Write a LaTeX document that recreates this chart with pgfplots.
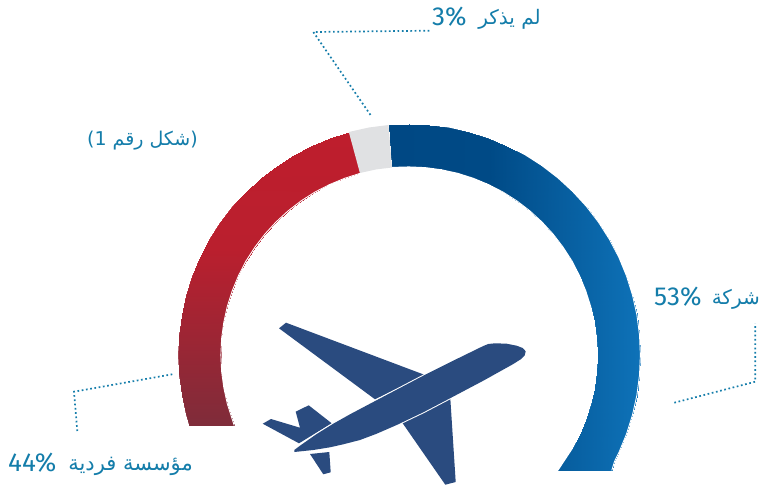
\documentclass[border=0pt]{standalone}
\usepackage{fontspec}
\usepackage{pgfplots}
\pgfplotsset{compat=1.18}
\setmainfont{Fira Sans}
\newfontfamily\arabicfont[Script=Arabic]{DejaVu Sans}
\TeXXeTstate=1
\definecolor{lbl}{RGB}{20,125,170}
\definecolor{planec}{RGB}{42,75,127}
\definecolor{grayseg}{RGB}{224,225,227}
\pgfplotsset{
 colormap={blueg}{rgb255(0cm)=(0,72,132); rgb255(4cm)=(0,74,134); rgb255(10cm)=(14,114,184)},
 colormap={redg}{rgb255(0cm)=(190,30,45); rgb255(4cm)=(186,31,46); rgb255(10cm)=(127,44,58)},
}
\begin{document}
\begin{tikzpicture}[x=1pt,y=1pt]
\path (0,0) rectangle (760,486);
\begin{axis}[at={(0,0)},anchor=south west,scale only axis,width=760pt,height=486pt,
  xmin=0,xmax=760,ymin=0,ymax=486,y dir=reverse,hide axis,clip=false]
% blue arc
\addplot[surf,shader=interp,mesh/cols=2,mesh/ordering=x varies,colormap name=blueg,point meta=x,point meta rel=per plot,draw=none] table {
x y
388.5 125
392 167
409 124
409 166.5
429.1 124.9
425.4 167.2
449.1 127.5
441.7 169.4
468.8 131.9
457.8 172.9
488.0 137.9
473.5 177.9
506.4 145.6
488.7 184.2
524.5 154.9
503.3 191.8
541.5 165.8
517.1 200.6
557.5 178.1
530.2 210.6
572.3 191.7
542.3 221.7
585.9 206.5
553.4 233.8
598.2 222.5
563.4 246.9
609.1 239.5
572.3 260.8
618.4 257.4
579.8 275.3
626.1 276.0
586.1 290.5
632.1 295.2
591.1 306.2
636.5 314.9
594.6 322.3
639.1 334.9
596.8 338.6
640 355
597.5 355
639.1 375.1
596.8 371.4
636.5 395.1
594.6 387.7
632.1 414.8
591.1 403.8
626.1 434.0
586.1 419.5
618.4 452.6
579.8 434.7
614.1 461.3
572.3 449.3
611.5 470
558.3 470
};
% red arc
\addplot[surf,shader=interp,mesh/cols=2,mesh/ordering=x varies,colormap name=redg,point meta=y,point meta rel=per plot,draw=none] table {
x y
348.8 132
359.9 173
330.0 137.9
344.5 177.9
311.4 145.6
329.3 184.2
293.5 154.9
314.7 191.8
276.5 165.8
300.9 200.6
260.5 178.1
287.8 210.6
245.7 191.7
275.7 221.7
232.1 206.5
264.6 233.8
219.8 222.5
254.6 246.9
209.0 239.5
245.7 260.8
199.6 257.4
238.2 275.3
191.9 276.0
231.9 290.5
185.9 295.2
226.9 306.2
181.5 314.9
223.4 322.3
178.9 334.9
221.2 338.6
178 355
220.5 355
178.9 375.1
221.2 371.4
181.5 395.1
223.4 387.7
185.9 414.8
226.9 403.8
188.9 425
234 425
};
% smooth edges of the arcs
\addplot[white,line width=0.9pt] coordinates {(388.5,124.6)(409,123.6)(429.1,124.5)(449.1,127.1)(468.8,131.5)(488.0,137.5)(506.4,145.2)(524.7,154.5)(541.7,165.4)(557.8,177.8)(572.6,191.4)(586.2,206.2)(598.5,222.2)(609.4,239.3)(618.8,257.2)(626.5,275.9)(632.5,295.1)(636.9,314.8)(639.5,334.9)(640.4,355)(639.5,375.1)(636.9,395.2)(632.5,414.9)(626.5,434.1)(618.8,452.8)(614.5,461.5)(611.8,470.4)};
\addplot[white,line width=0.9pt] coordinates {(392,167.4)(409,166.9)(425.4,167.6)(441.6,169.8)(457.7,173.3)(473.4,178.3)(488.5,184.6)(503.1,192.1)(516.9,200.9)(529.9,210.9)(542,222)(553.1,234.1)(563.1,247.2)(572,261)(579.4,275.5)(585.7,290.7)(590.7,306.4)(594.2,322.4)(596.4,338.7)(597.1,355)(596.4,371.3)(594.2,387.6)(590.7,403.7)(585.7,419.3)(579.4,434.5)(571.9,449.1)(557.9,470.4)};
\addplot[white,line width=0.9pt] coordinates {(348.7,131.6)(329.9,137.5)(311.2,145.2)(293.3,154.5)(276.3,165.4)(260.2,177.8)(245.4,191.4)(231.8,206.2)(219.5,222.2)(208.6,239.3)(199.2,257.2)(191.5,275.9)(185.5,295.1)(181.1,314.8)(178.5,334.9)(177.6,355)(178.5,375.1)(181.1,395.2)(185.5,414.9)(188.6,425.4)};
\addplot[white,line width=0.9pt] coordinates {(360,173.4)(344.7,178.3)(329.5,184.6)(314.9,192.1)(301.1,200.9)(288.1,210.9)(276,222)(264.9,234.1)(254.9,247.2)(246,261)(238.6,275.5)(232.3,290.7)(227.3,306.4)(223.8,322.4)(221.6,338.7)(220.9,355)(221.6,371.3)(223.8,387.6)(227.3,403.7)(234.2,425.4)};
% grey segment
\addplot[fill=grayseg,draw=none] coordinates {(348.8,132)(368.9,127.5)(388.5,125)(392,167.5)(376.3,169.4)(359.9,173)} --cycle;
% aeroplane
\addplot[fill=planec,draw=none] coordinates {(279,328.3)(286,322.7)(425,375)(375,399.3)} --cycle;
\addplot[fill=planec,draw=none] coordinates {(450.3,398.3)(455.7,482)(445.3,484.7)(402,422.3)} --cycle;
\addplot[fill=planec,draw=none] coordinates {(295.7,411.7)(308.7,405.3)(331.7,423.3)(299,443.3)(262.7,423.7)(271,419)(300,427.7)} --cycle;
\addplot[fill=planec,draw=none] coordinates {(310,454)(329.3,452)(330.7,472.3)(323.3,474.3)} --cycle;
\addplot[draw=white,line width=2pt] coordinates {(294.3,450)(300,445.7)(316.7,434)(333.3,423.7)(350,414.3)(383.3,396.7)(423.3,375.7)(456.7,359)(483.3,346)(488.3,344)(495,343.3)(506.7,343.7)(516.7,345.7)(522.7,348)(525.7,351.3)(524.7,355.3)(520.7,359.3)(513.3,364)(483.3,380.7)(450,398.3)(423.3,412.3)(396.7,425)(376.7,433.7)(360,440)(343.3,444.3)(330,447.3)(313.3,450)(294.3,452)} --cycle;
\addplot[fill=planec,draw=none] coordinates {(294.3,450)(300,445.7)(316.7,434)(333.3,423.7)(350,414.3)(383.3,396.7)(423.3,375.7)(456.7,359)(483.3,346)(488.3,344)(495,343.3)(506.7,343.7)(516.7,345.7)(522.7,348)(525.7,351.3)(524.7,355.3)(520.7,359.3)(513.3,364)(483.3,380.7)(450,398.3)(423.3,412.3)(396.7,425)(376.7,433.7)(360,440)(343.3,444.3)(330,447.3)(313.3,450)(294.3,452)} --cycle;
% leader lines
\addplot[lbl,line width=1.7pt,dash pattern=on 1.7pt off 2.6pt] coordinates {(429.3,30.7)(313.3,32)(371,115.7)};
\addplot[lbl,line width=1.7pt,dash pattern=on 1.7pt off 2.6pt] coordinates {(172.3,374.3)(74,391.7)(77.3,431)};
\addplot[lbl,line width=1.7pt,dash pattern=on 1.7pt off 2.6pt] coordinates {(674.3,402.7)(755.3,381.7)(755.3,323.3)};
% labels
\node[lbl,anchor=west,inner sep=0,font=\fontsize{26}{26}\selectfont] at (axis cs:432,17) {3\%};
\node[lbl,anchor=east,inner sep=0,font=\fontsize{20}{20}\selectfont] at (axis cs:541,19) {\arabicfont\beginR لم يذكر\endR};
\node[lbl,anchor=west,inner sep=0,font=\fontsize{26}{26}\selectfont] at (axis cs:654,297) {53\%};
\node[lbl,anchor=east,inner sep=0,font=\fontsize{20}{20}\selectfont] at (axis cs:760,299) {\arabicfont\beginR شركة\endR};
\node[lbl,anchor=west,inner sep=0,font=\fontsize{26}{26}\selectfont] at (axis cs:8,463) {44\%};
\node[lbl,anchor=east,inner sep=0,font=\fontsize{21}{21}\selectfont] at (axis cs:193,466) {\arabicfont\beginR مؤسسة فردية\endR};
\node[lbl,anchor=east,inner sep=0,font=\fontsize{19}{19}\selectfont] at (axis cs:198,141) {\arabicfont\beginR (شكل رقم \beginL 1\endL)\endR};
\end{axis}
\end{tikzpicture}
\end{document}
